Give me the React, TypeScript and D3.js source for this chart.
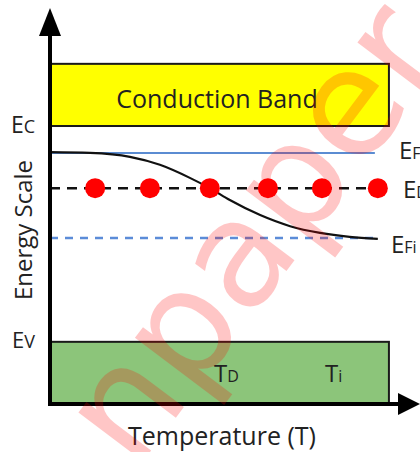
import React from "react";
import * as d3 from "d3";

// Energy levels (arbitrary energy units, valence band edge near 15.7)
const bandLevels = { cbTop: 85.9, ec: 70.2, ev: 15.7, axis: 0 };
const fermiLevels = [
  { key: "EF", main: "E", sub: "F", value: 63.4, dx: 399, dy: 6 },
  { key: "ED", main: "E", sub: "D", value: 54.5, dx: 403, dy: 10 },
  { key: "EFi", main: "E", sub: "Fi", value: 41.9, dx: 391, dy: 15 },
];
// Donor atoms positions along temperature axis
const donorT = [12.2, 27, 43.2, 58.9, 73.5, 88.6];
// Fermi level vs temperature curve
const curveT = [0, 10.8, 21.6, 29.7, 37.8, 43.2, 48.6, 56.8, 64.9, 73, 81, 88.6];
const curveE = [63.6, 63.4, 62.4, 60.4, 57.1, 54.5, 51.5, 47.7, 44.9, 43.2, 42.2, 41.7];
const tempLabels = [
  { main: "T", sub: "D", t: 44.3 },
  { main: "T", sub: "i", t: 74.3 },
];
const bandRight = 91.6;
const lineRight = 87.8;

export default function App() {
  const W = 420, H = 452;
  const x = d3.scaleLinear().domain([0, 100]).range([50, 420]);
  const y = d3.scaleLinear().domain([0, 100]).range([404, 8]);
  const line = d3
    .line<number>()
    .x((_, i) => x(curveT[i]))
    .y((d) => y(d))
    .curve(d3.curveMonotoneX);
  const font = "'Open Sans', 'Liberation Sans', sans-serif";
  const textCol = "#222";
  const ef = fermiLevels[0], ed = fermiLevels[1], efi = fermiLevels[2];

  return (
    <svg
      width={W}
      height={H}
      style={{ position: "absolute", left: 0, top: 0, background: "#fff" }}
      fontFamily={font}
    >
      {/* Conduction band */}
      <rect
        x={x(0)}
        y={y(bandLevels.cbTop)}
        width={x(bandRight) - x(0)}
        height={y(bandLevels.ec) - y(bandLevels.cbTop)}
        fill="#FFFF00"
        stroke="#1a1a1a"
        strokeWidth={2}
      />
      <text x={217} y={108} textAnchor="middle" fontSize={25} fill={textCol}>
        Conduction Band
      </text>

      {/* Valence band */}
      <rect
        x={x(0)}
        y={y(bandLevels.ev)}
        width={x(bandRight) - x(0)}
        height={y(bandLevels.axis) - y(bandLevels.ev)}
        fill="#8CC57A"
        stroke="#1a1a1a"
        strokeWidth={2}
      />

      {/* EF solid blue */}
      <line
        x1={x(0)}
        x2={x(lineRight)}
        y1={y(ef.value)}
        y2={y(ef.value)}
        stroke="#5B8CD2"
        strokeWidth={2}
      />
      {/* EFi dashed blue */}
      <line
        x1={x(0)}
        x2={x(lineRight)}
        y1={y(efi.value)}
        y2={y(efi.value)}
        stroke="#5B8CD8"
        strokeWidth={2.5}
        strokeDasharray="8 7"
      />
      {/* ED dashed black */}
      <line
        x1={x(0)}
        x2={x(lineRight)}
        y1={y(ed.value)}
        y2={y(ed.value)}
        stroke="#111"
        strokeWidth={2.5}
        strokeDasharray="10 7"
      />
      {/* Fermi level curve */}
      <path d={line(curveE) ?? ""} fill="none" stroke="#111" strokeWidth={2.2} />

      {/* Donor dots */}
      {donorT.map((t, i) => (
        <circle key={i} cx={x(t)} cy={y(ed.value)} r={10} fill="#FF0000" />
      ))}

      {/* Level labels on right */}
      {fermiLevels.map((l) => (
        <text key={l.key} x={l.dx} y={y(l.value) + l.dy} fill={textCol}>
          <tspan fontSize={24}>{l.main}</tspan>
          <tspan fontSize={16}>{l.sub}</tspan>
        </text>
      ))}

      {/* Band edge labels on left */}
      <text x={11} y={133} fill={textCol}>
        <tspan fontSize={23}>E</tspan>
        <tspan fontSize={18}>C</tspan>
      </text>
      <text x={12} y={348} fill={textCol}>
        <tspan fontSize={22}>E</tspan>
        <tspan fontSize={18}>V</tspan>
      </text>

      {/* Temperature labels */}
      {tempLabels.map((l, i) => (
        <text key={i} x={x(l.t)} y={382} fill={textCol}>
          <tspan fontSize={24}>{l.main}</tspan>
          <tspan fontSize={16}>{l.sub}</tspan>
        </text>
      ))}

      {/* Axes */}
      <line x1={x(0)} x2={x(0)} y1={y(bandLevels.axis) + 2} y2={30} stroke="#000" strokeWidth={4} />
      <path d={`M${x(0) - 11},${36} L${x(0)},${8} L${x(0) + 11},${36} Z`} fill="#000" />
      <line x1={x(0) - 2} x2={400} y1={y(bandLevels.axis)} y2={y(bandLevels.axis)} stroke="#000" strokeWidth={4} />
      <path d={`M${398},${y(0) - 11} L${420},${y(0)} L${398},${y(0) + 11} Z`} fill="#000" />

      {/* Axis titles */}
      <text x={222} y={445} textAnchor="middle" fontSize={25} fill={textCol}>
        Temperature (T)
      </text>
      <text
        transform={`translate(32, ${230}) rotate(-90)`}
        textAnchor="middle"
        fontSize={24}
        fill={textCol}
      >
        Energy Scale
      </text>

      {/* Watermark */}
      <text
        transform="translate(252, 232) rotate(-53)"
        textAnchor="middle"
        dominantBaseline="central"
        fontSize={148}
        fontFamily="'DejaVu Sans', sans-serif"
        fill="#FF0000"
        opacity={0.22}
      >
        npaper
      </text>
    </svg>
  );
}
